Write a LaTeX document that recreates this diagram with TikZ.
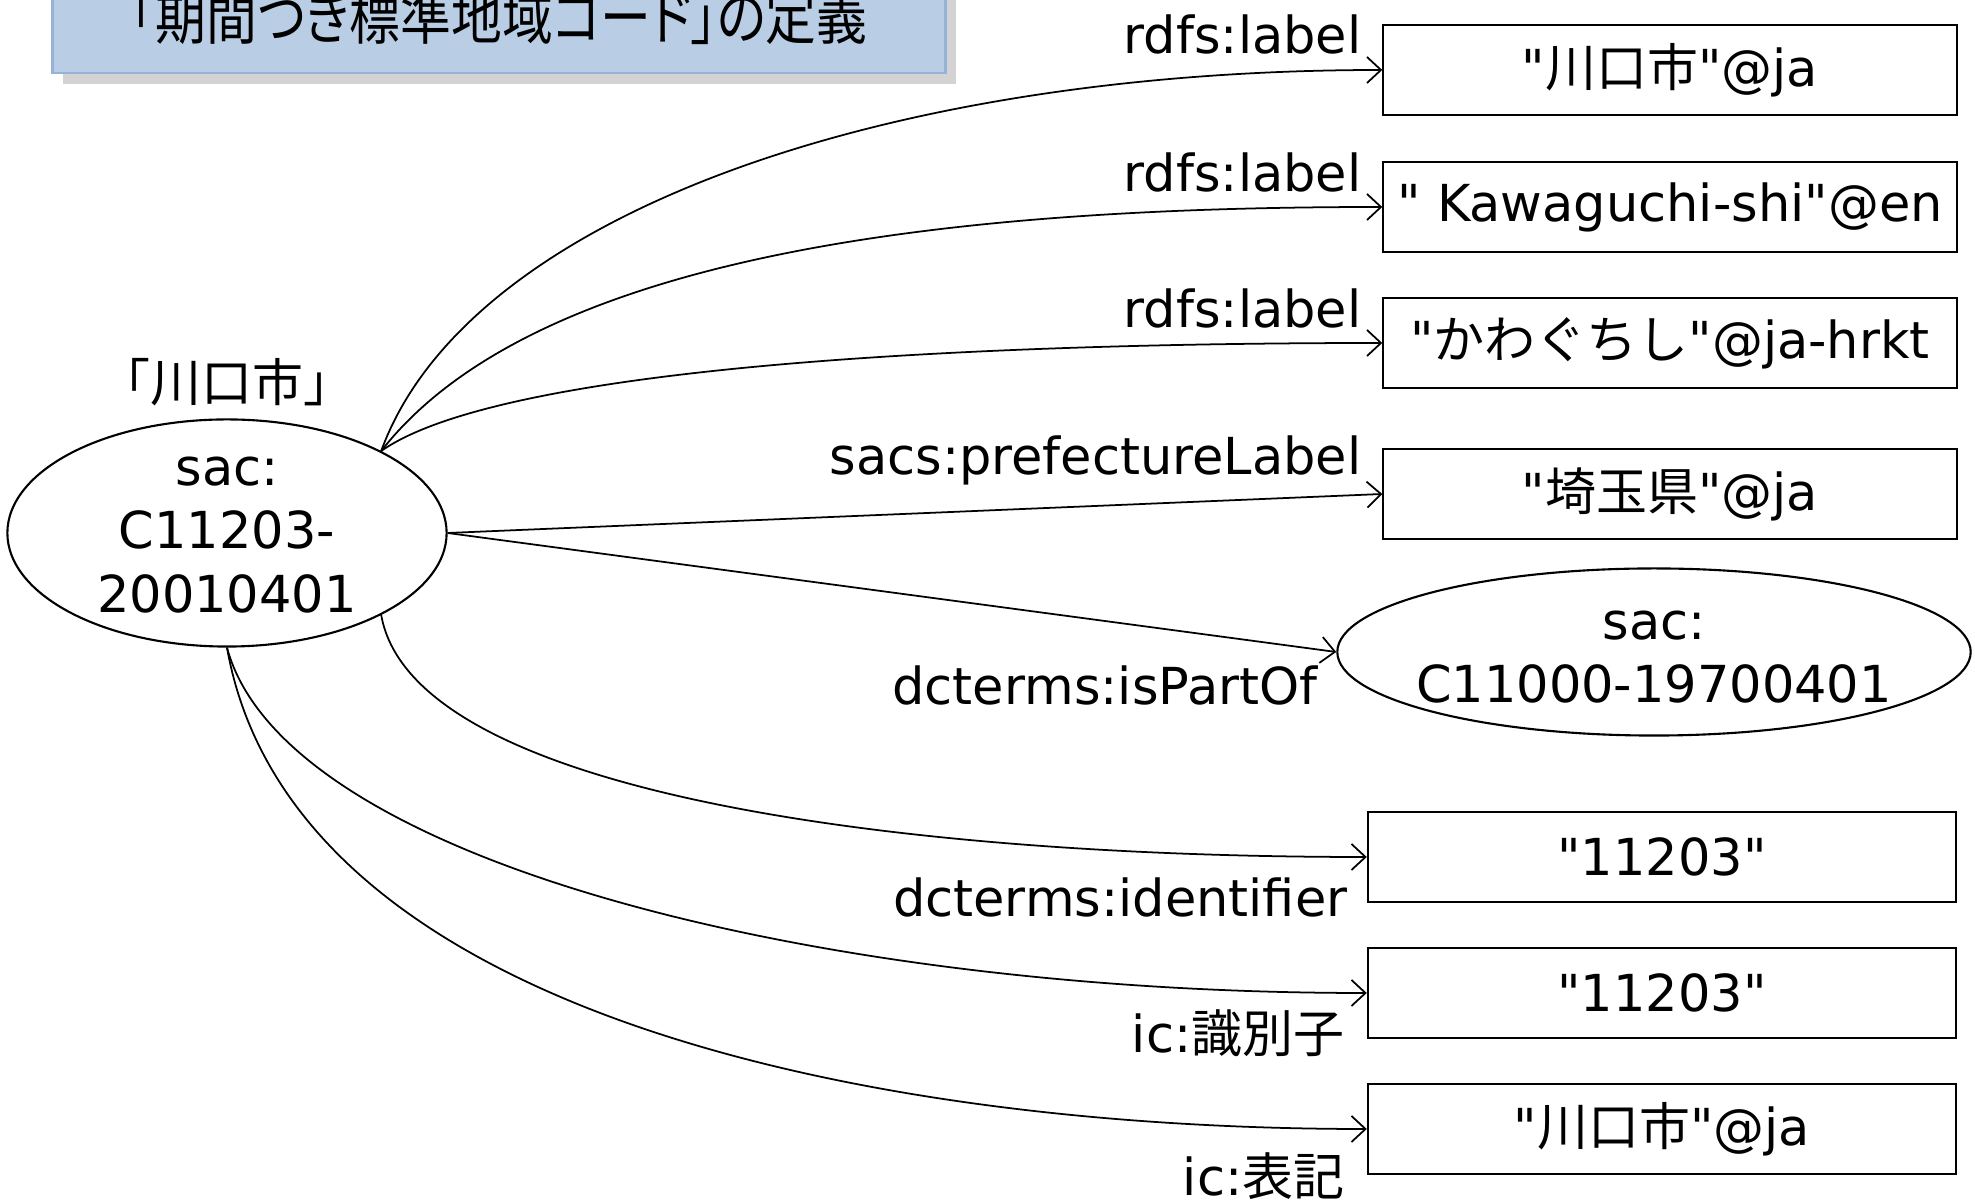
\documentclass[tikz,border=0pt]{standalone}
\usepackage{fontspec}
\usepackage{tikz}
\usetikzlibrary{shapes.geometric,arrows.meta,shadows}
\setmainfont{DejaVu Sans}[Ligatures=TeXOff]
\newfontfamily\jp{Noto Sans CJK JP}
\newfontfamily\jptitle[FakeStretch=0.85,RawFeature=+palt]{Noto Sans CJK JP}
\definecolor{titlefill}{HTML}{B9CDE5}
\definecolor{titleline}{HTML}{95B3D7}
\tikzset{
    resource-ellipse/.style = {draw, ellipse, line width=0.6pt, inner sep=0pt},
    literal-box/.style = {draw, rectangle, line width=0.6pt, inner sep=0pt, minimum height=0.9cm},
    property-label/.style = {anchor=east, inner sep=0pt},
    link-arrow/.style = {-{Straight Barb[length=1.4mm,width=2.6mm]}, line width=0.5pt},
    title-box/.style = {fill=titlefill, draw=titleline, line width=0.8pt, minimum width=8.92cm, minimum height=1.12cm,
        drop shadow={opacity=0.35, shadow xshift=3pt, shadow yshift=-3pt}},
}

\begin{document}
\begin{tikzpicture}[x=0.01cm, y=0.01cm, font=\fontsize{14.5}{18}\selectfont]
\useasboundingbox (0,0) rectangle (1975,1203);
\node [title-box] (title) at (499,1186) {\fontsize{17}{20}\selectfont\jptitle 「期間つき標準地域コード」の定義};

\node [resource-ellipse, minimum width=4.39cm, minimum height=2.27cm] (city) at (227,670) {};
\node [align=center] (city-text) at (227,668) {sac:\\C11203-\\20010401};
\node (city-name) at (227,821) {\jp 「川口市」};

\node [literal-box, minimum width=5.73cm] (label-ja) at (1670,1133) {"{\jp 川口市}"@ja};
\node [literal-box, minimum width=5.73cm] (label-en) at (1670,996) {" Kawaguchi-shi"@en};
\node [literal-box, minimum width=5.73cm] (label-kana) at (1670,860) {"{\jp かわぐちし}"@ja-hrkt};
\node [literal-box, minimum width=5.73cm] (pref-label) at (1670,709) {"{\jp 埼玉県}"@ja};
\node [resource-ellipse, minimum width=6.33cm, minimum height=1.67cm] (pref) at (1654,551) {};
\node [align=center] (pref-text) at (1654,546) {sac:\\C11000-19700401};
\node [literal-box, minimum width=5.88cm] (ident) at (1662,346) {"11203"};
\node [literal-box, minimum width=5.88cm] (ic-ident) at (1662,210) {"11203"};
\node [literal-box, minimum width=5.88cm] (ic-label) at (1662,74) {"{\jp 川口市}"@ja};

\node [property-label] (p-label-ja) at (1362,1168) {rdfs:label};
\node [property-label] (p-label-en) at (1362,1030) {rdfs:label};
\node [property-label] (p-label-kana) at (1362,894) {rdfs:label};
\node [property-label] (p-pref-label) at (1362,743) {sacs:prefectureLabel};
\node [property-label] (p-part-of) at (1318,517) {dcterms:isPartOf};
\node [property-label] (p-ident) at (1348,306) {dcterms:identifier};
\node [property-label] (p-ic-ident) at (1345,170) {ic:{\jp 識別子}};
\node [property-label] (p-ic-label) at (1345,27) {ic:{\jp 表記}};

\draw [link-arrow] (city.28) to [out=70, in=180, out distance=2.5cm, in distance=5cm] (label-ja.west);
\draw [link-arrow] (city.28) to [out=52, in=180, out distance=2.6cm, in distance=4cm] (label-en.west);
\draw [link-arrow] (city.28) to [out=35, in=180, out distance=1.5cm, in distance=4cm] (label-kana.west);
\draw [link-arrow] (city.east) -- (pref-label.west);
\draw [link-arrow] (city.east) -- (pref.west);
\draw [link-arrow] (city.-28) to [out=-80, in=180, out distance=1.85cm, in distance=4.5cm] (ident.west);
\draw [link-arrow] (city.south) to [out=-75, in=180, out distance=2.2cm, in distance=5.5cm] (ic-ident.west);
\draw [link-arrow] (city.south) to [out=-80, in=180, out distance=3.7cm, in distance=5cm] (ic-label.west);
\end{tikzpicture}
\end{document}
